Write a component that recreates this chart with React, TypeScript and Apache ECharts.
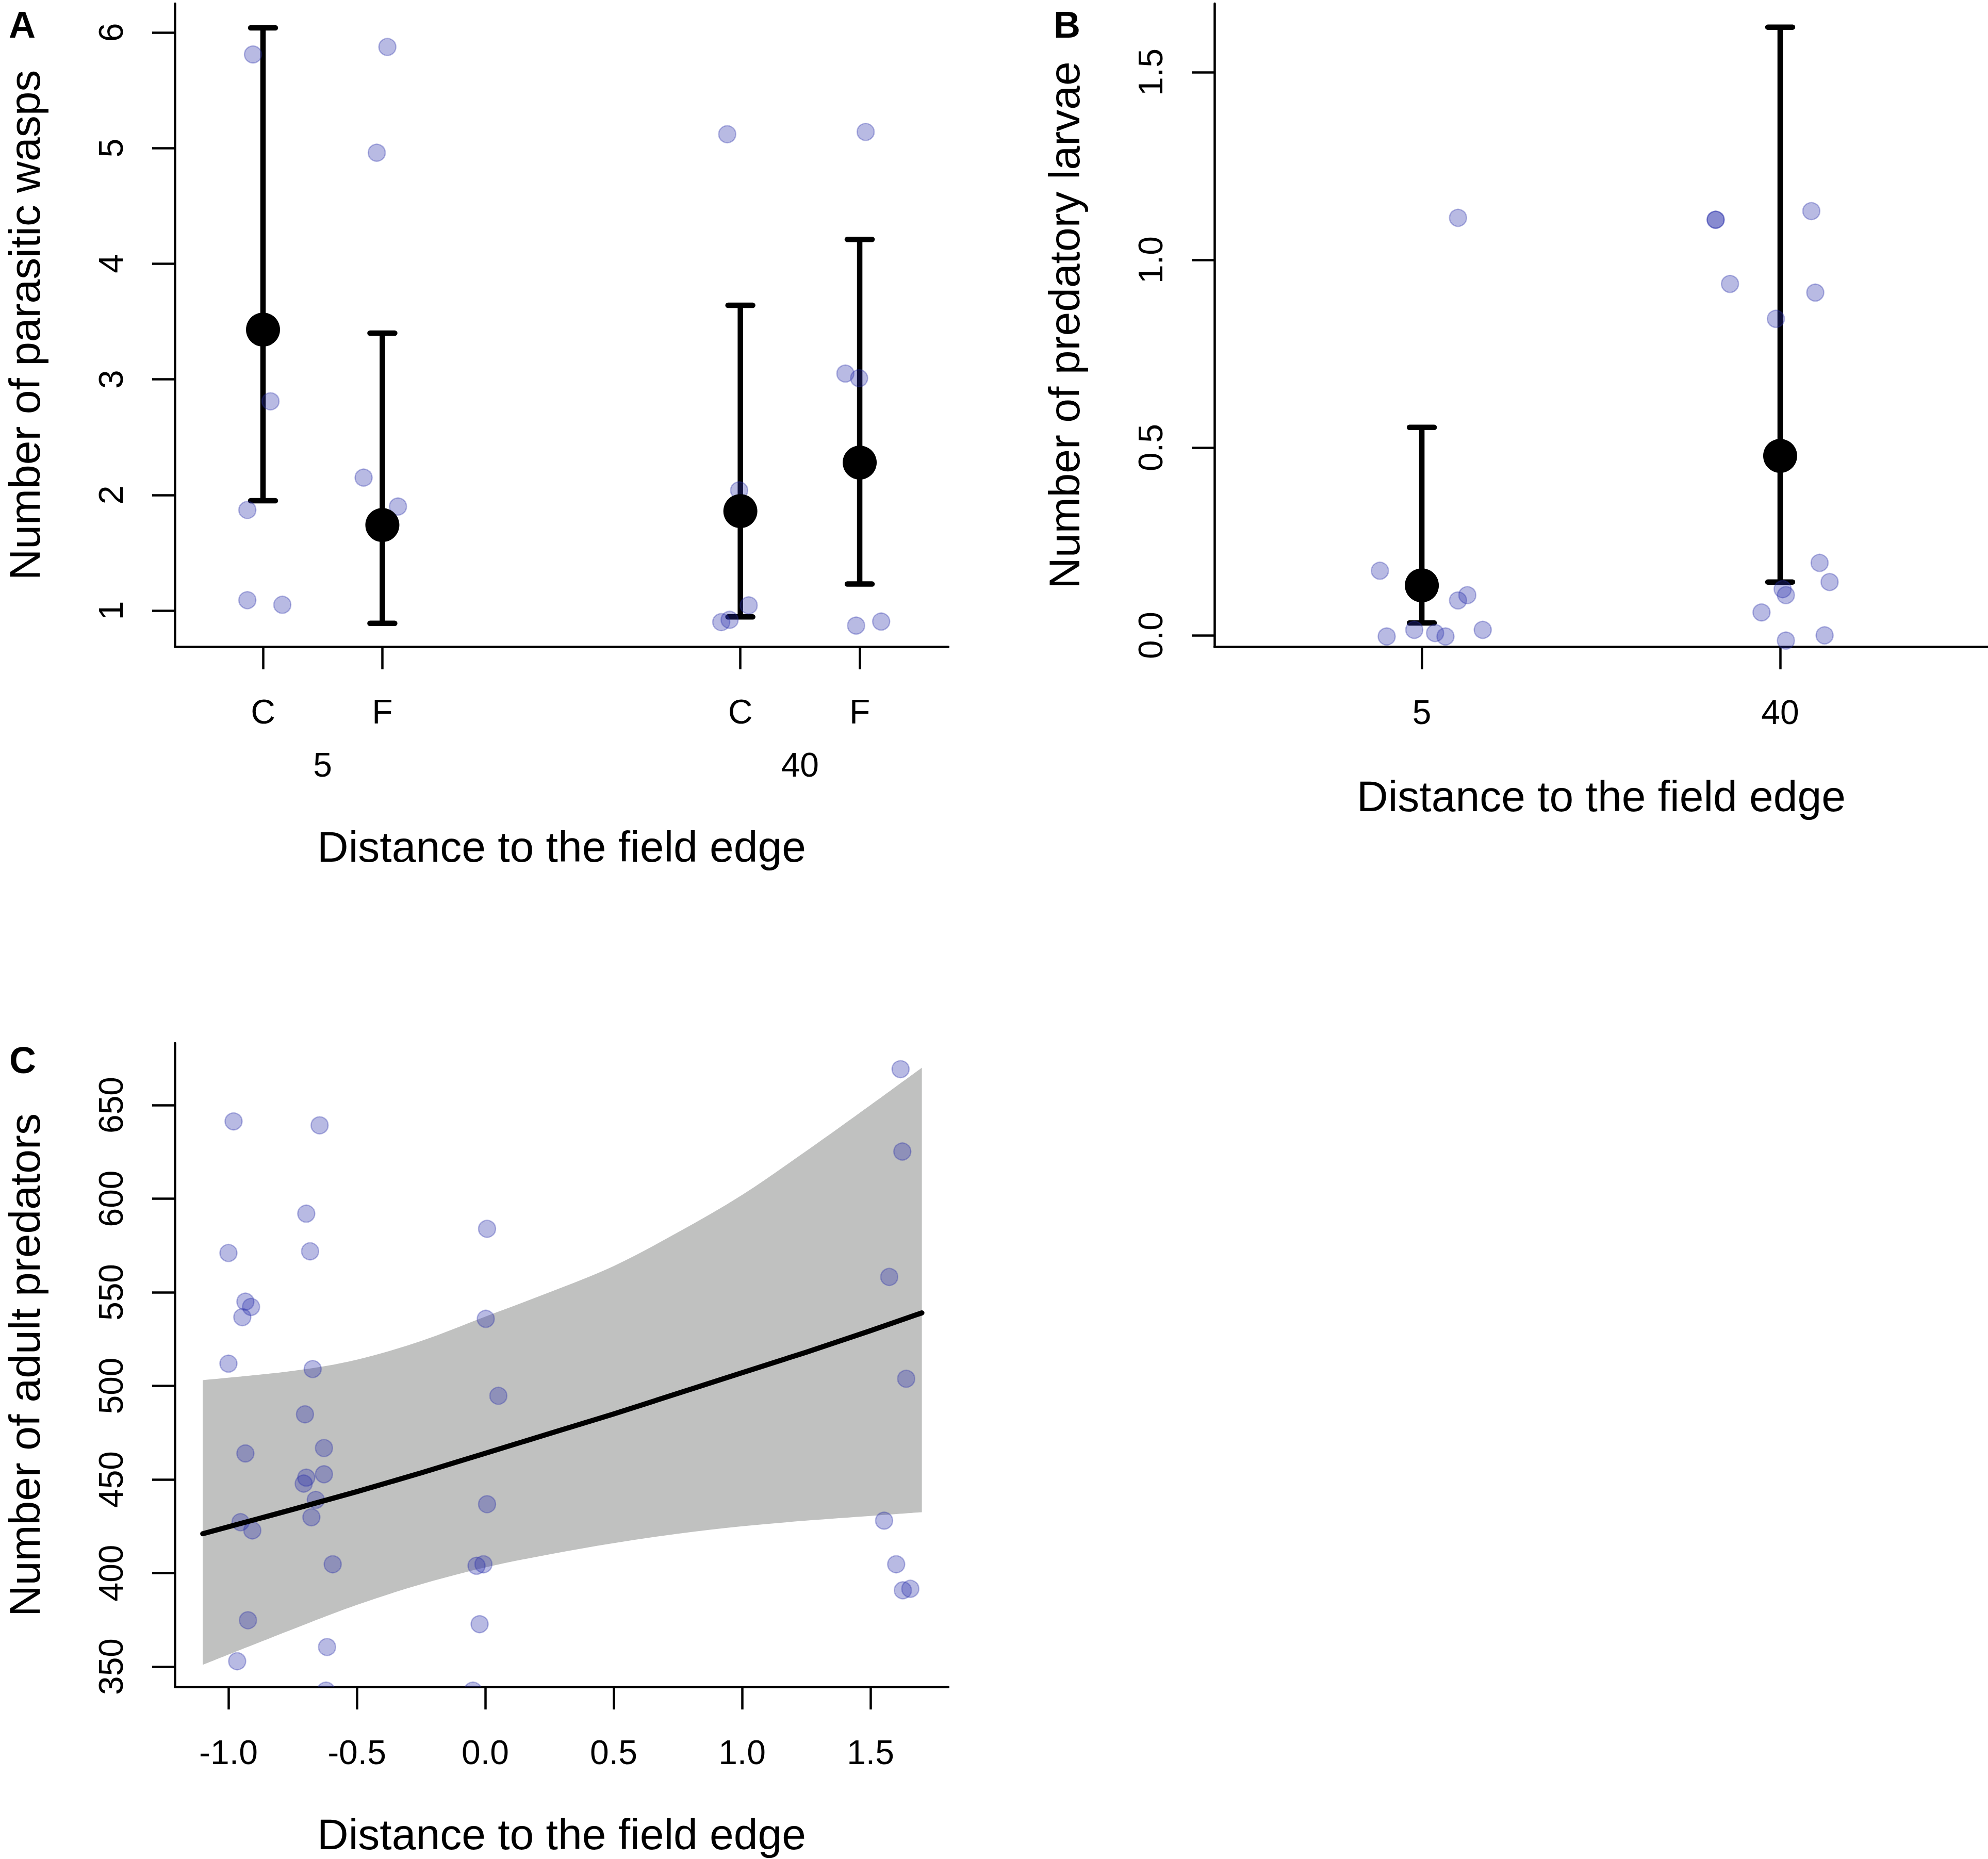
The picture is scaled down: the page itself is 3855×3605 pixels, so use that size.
import React, { useEffect, useRef } from "react";
import * as echarts from "echarts";

const FONT = "'Liberation Sans', Arial, Helvetica, sans-serif";
const POINT_FILL = "rgba(40,45,170,0.33)";

// ---------- Panel A: parasitic wasps ----------
const treatmentPositions = [1, 2, 5, 6];
const treatmentLabels = ["C", "F", "C", "F"];
const distanceGroupPositions = [1.5, 5.5];
const distanceLabels = ["5", "40"];
const waspTicks = [1, 2, 3, 4, 5, 6];
const waspPointX = [0.916, 1.063, 0.869, 0.869, 1.162, 2.042, 1.953, 1.843, 2.131, 4.89, 4.99, 4.84, 4.91, 5.07, 6.05, 5.88, 5.995, 5.97, 6.18];
const waspPointY = [5.81, 2.81, 1.87, 1.09, 1.05, 5.875, 4.96, 2.15, 1.9, 5.12, 2.04, 0.9, 0.92, 1.045, 5.14, 3.05, 3.01, 0.87, 0.905];
const waspMean = [3.43, 1.74, 1.86, 2.28];
const waspLower = [1.95, 0.89, 0.945, 1.23];
const waspUpper = [6.04, 3.4, 3.64, 4.21];

// ---------- Panel B: predatory larvae ----------
const larvaePositions = [1, 2];
const larvaeLabels = ["5", "40"];
const larvaeTicks = [0, 0.5, 1, 1.5];
const larvaePointX = [1.101, 0.883, 1.127, 1.101, 1.17, 0.979, 1.037, 0.902, 1.066, 1.82, 1.82, 2.087, 1.86, 2.098, 1.988, 2.11, 2.138, 2.007, 2.016, 1.948, 2.124, 2.016];
const larvaePointY = [1.112, 0.172, 0.107, 0.093, 0.0145, 0.0145, 0.006, -0.003, -0.003, 1.107, 1.107, 1.13, 0.936, 0.913, 0.843, 0.193, 0.142, 0.123, 0.107, 0.061, 0.0, -0.014];
const larvaeMean = [0.133, 0.478];
const larvaeLower = [0.033, 0.142];
const larvaeUpper = [0.554, 1.62];

// ---------- Panel C: adult predators ----------
const adultTicksY = [350, 400, 450, 500, 550, 600, 650];
const adultTicksX = [-1, -0.5, 0, 0.5, 1, 1.5];
const adultPointX = [-0.98, -0.645, 1.617, 1.624, -0.697, 0.007, -1.0, -0.682, 1.573, -0.934, -0.912, -0.946, 0.002, -1.0, -0.672, 1.639, 0.051, -0.702, -0.934, -0.628, -0.628, -0.697, -0.707, -0.66, 0.007, -0.677, -0.953, -0.907, 1.553, -0.594, -0.034, -0.007, 1.6, 1.626, 1.655, -0.924, -0.022, -0.616, -0.966, -0.62, -0.048];
const adultPointY = [641.3, 639.2, 669.2, 625.2, 592, 583.9, 571, 571.9, 558.2, 545, 542.2, 536.7, 535.8, 511.9, 509, 503.8, 494.7, 484.8, 463.9, 466.8, 452.8, 451, 447.8, 439.1, 436.8, 429.8, 427.2, 422.8, 428, 404.7, 403.9, 404.7, 404.7, 390.8, 391.6, 374.8, 372.7, 360.5, 352.9, 337.2, 337.2];
const fitX = [-1.1, -0.75, -0.5, -0.25, 0, 0.25, 0.5, 0.75, 1.0, 1.25, 1.5, 1.7];
const fitY = [421, 434, 443.5, 453.5, 464, 474.5, 485, 496, 507, 518, 529.5, 539];
const bandUpper = [503, 508, 514, 524, 537, 550, 564, 582, 602, 625.5, 650, 670];
const bandLower = [351, 370, 383, 394, 403, 410, 416, 421, 425, 428, 430.5, 432.5];

const TICK_FONT = 66;
const TITLE_FONT = 84;

const lineStyle = { color: "#000", width: 4.5 };

function labelStyle(extra: any) {
  return { color: "#000", fontSize: TICK_FONT, lineHeight: TICK_FONT, fontFamily: FONT, ...extra };
}
const nameStyle = { color: "#000", fontSize: TITLE_FONT, lineHeight: TITLE_FONT, fontFamily: FONT };

function errorBarRender(params: any, api: any) {
  const x = api.value(0);
  const lo = api.coord([x, api.value(2)]);
  const hi = api.coord([x, api.value(3)]);
  const st = { stroke: "#000", lineWidth: 10.5 };
  const stCap = { stroke: "#000", lineWidth: 10.5, lineCap: "round" };
  return {
    type: "group",
    children: [
      { type: "line", shape: { x1: lo[0], y1: lo[1], x2: hi[0], y2: hi[1] }, style: st },
      { type: "line", shape: { x1: hi[0] - 24, y1: hi[1], x2: hi[0] + 24, y2: hi[1] }, style: stCap },
      { type: "line", shape: { x1: lo[0] - 24, y1: lo[1], x2: lo[0] + 24, y2: lo[1] }, style: stCap },
    ],
  };
}

// Catmull-Rom spline through screen points, as cubic Bezier path commands
function splineSegments(pts: number[][]): string {
  let d = "";
  for (let i = 0; i < pts.length - 1; i++) {
    const p0 = pts[Math.max(0, i - 1)];
    const p1 = pts[i];
    const p2 = pts[i + 1];
    const p3 = pts[Math.min(pts.length - 1, i + 2)];
    const c1 = [p1[0] + (p2[0] - p0[0]) / 6, p1[1] + (p2[1] - p0[1]) / 6];
    const c2 = [p2[0] - (p3[0] - p1[0]) / 6, p2[1] - (p3[1] - p1[1]) / 6];
    d += ` C ${c1[0].toFixed(2)} ${c1[1].toFixed(2)} ${c2[0].toFixed(2)} ${c2[1].toFixed(2)} ${p2[0].toFixed(2)} ${p2[1].toFixed(2)}`;
  }
  return d;
}

function panelLetter(text: string, x: number, y: number) {
  return {
    type: "text", x, y,
    style: { text, fontSize: 72, fontWeight: "bold", fontFamily: FONT, fill: "#000", align: "center", verticalAlign: "middle", textAlign: "center", textVerticalAlign: "middle" },
  };
}

export default function App() {
  const ref = useRef<HTMLDivElement>(null);
  useEffect(() => {
    if (!ref.current) return;
    const chart = echarts.init(ref.current, undefined, { renderer: "svg" });

    const pointItemStyle = { color: POINT_FILL, borderColor: POINT_FILL, borderWidth: 2.5, opacity: 1 };
    const meanItemStyle = { color: "#000", opacity: 1 };

    const option: any = {
      animation: false,
      backgroundColor: "#fff",
      grid: [
        { left: 339, top: 7, width: 1500, height: 1247, outerBoundsMode: "none" },
        { left: 2355, top: 7, width: 1500, height: 1247, outerBoundsMode: "none" },
        { left: 339, top: 2023, width: 1500, height: 1248, outerBoundsMode: "none" },
      ],
      xAxis: [
        {
          gridIndex: 0, type: "value", position: "bottom", min: 0.261, max: 6.743,
          axisLine: { show: true, onZero: false, lineStyle },
          axisTick: { show: true, length: 44, lineStyle, customValues: treatmentPositions },
          axisLabel: labelStyle({ customValues: treatmentPositions, margin: 93, formatter: (v: number) => treatmentLabels[treatmentPositions.indexOf(v)] ?? "" }),
          splitLine: { show: false },
          name: "Distance to the field edge", nameLocation: "middle", nameGap: 346, nameTextStyle: nameStyle,
        },
        {
          gridIndex: 0, type: "value", position: "bottom", min: 0.261, max: 6.743,
          axisLine: { show: false, onZero: false }, axisTick: { show: false },
          axisLabel: labelStyle({ customValues: distanceGroupPositions, margin: 196, formatter: (v: number) => distanceLabels[distanceGroupPositions.indexOf(v)] ?? "" }),
          splitLine: { show: false },
        },
        {
          gridIndex: 1, type: "value", position: "bottom", min: 0.4213, max: 2.58,
          axisLine: { show: true, onZero: false, lineStyle },
          axisTick: { show: true, length: 44, lineStyle, customValues: larvaePositions },
          axisLabel: labelStyle({ customValues: larvaePositions, margin: 94, formatter: (v: number) => larvaeLabels[larvaePositions.indexOf(v)] ?? "" }),
          splitLine: { show: false },
          name: "Distance to the field edge", nameLocation: "middle", nameGap: 248, nameTextStyle: nameStyle,
        },
        {
          gridIndex: 2, type: "value", position: "bottom", min: -1.2088, max: 1.8032,
          axisLine: { show: true, onZero: false, lineStyle },
          axisTick: { show: true, length: 44, lineStyle, customValues: adultTicksX },
          axisLabel: labelStyle({ customValues: adultTicksX, margin: 94, formatter: (v: number) => v.toFixed(1) }),
          splitLine: { show: false },
          name: "Distance to the field edge", nameLocation: "middle", nameGap: 244, nameTextStyle: nameStyle,
        },
      ],
      yAxis: [
        {
          gridIndex: 0, type: "value", position: "left", min: 0.6878, max: 6.2498,
          axisLine: { show: true, onZero: false, lineStyle },
          axisTick: { show: true, length: 44, lineStyle, customValues: waspTicks },
          axisLabel: labelStyle({ customValues: waspTicks, rotate: 90, margin: 91, formatter: (v: number) => String(v) }),
          splitLine: { show: false },
          name: "Number of parasitic wasps", nameLocation: "middle", nameGap: 249, nameTextStyle: nameStyle,
        },
        {
          gridIndex: 1, type: "value", position: "left", min: -0.0302, max: 1.6827,
          axisLine: { show: true, onZero: false, lineStyle },
          axisTick: { show: true, length: 44, lineStyle, customValues: larvaeTicks },
          axisLabel: labelStyle({ customValues: larvaeTicks, rotate: 90, margin: 91, formatter: (v: number) => v.toFixed(1) }),
          splitLine: { show: false },
          name: "Number of predatory larvae", nameLocation: "middle", nameGap: 249, nameTextStyle: nameStyle,
        },
        {
          gridIndex: 2, type: "value", position: "left", min: 339.26, max: 683.06,
          axisLine: { show: true, onZero: false, lineStyle },
          axisTick: { show: true, length: 44, lineStyle, customValues: adultTicksY },
          axisLabel: labelStyle({ customValues: adultTicksY, rotate: 90, margin: 91, formatter: (v: number) => String(v) }),
          splitLine: { show: false },
          name: "Number of adult predators", nameLocation: "middle", nameGap: 249, nameTextStyle: nameStyle,
        },
      ],
      graphic: [panelLetter("A", 43, 48), panelLetter("B", 2069, 48), panelLetter("C", 44, 2056)],
      series: [
        // Panel A
        {
          type: "scatter", xAxisIndex: 0, yAxisIndex: 0, symbolSize: 33, itemStyle: pointItemStyle,
          data: waspPointX.map((x, i) => [x, waspPointY[i]]),
        },
        {
          type: "custom", xAxisIndex: 0, yAxisIndex: 0, renderItem: errorBarRender, encode: { x: 0, y: 1 },
          data: treatmentPositions.map((x, i) => [x, waspMean[i], waspLower[i], waspUpper[i]]),
        },
        {
          type: "scatter", xAxisIndex: 0, yAxisIndex: 0, symbolSize: 66, itemStyle: meanItemStyle,
          data: treatmentPositions.map((x, i) => [x, waspMean[i]]),
        },
        // Panel B
        {
          type: "scatter", xAxisIndex: 2, yAxisIndex: 1, symbolSize: 33, itemStyle: pointItemStyle,
          data: larvaePointX.map((x, i) => [x, larvaePointY[i]]),
        },
        {
          type: "custom", xAxisIndex: 2, yAxisIndex: 1, renderItem: errorBarRender, encode: { x: 0, y: 1 },
          data: larvaePositions.map((x, i) => [x, larvaeMean[i], larvaeLower[i], larvaeUpper[i]]),
        },
        {
          type: "scatter", xAxisIndex: 2, yAxisIndex: 1, symbolSize: 66, itemStyle: meanItemStyle,
          data: larvaePositions.map((x, i) => [x, larvaeMean[i]]),
        },
        // Panel C: confidence band as one smooth closed path
        {
          type: "custom", xAxisIndex: 3, yAxisIndex: 2, encode: { x: 0, y: 1 },
          data: fitX.map((x, i) => [x, bandUpper[i], bandLower[i]]),
          renderItem: (params: any, api: any) => {
            if (params.dataIndex !== 0) return null;
            const upper = fitX.map((x, i) => api.coord([x, bandUpper[i]]));
            const lower = fitX.map((x, i) => api.coord([x, bandLower[i]])).reverse();
            const d =
              `M ${upper[0][0].toFixed(2)} ${upper[0][1].toFixed(2)}` +
              splineSegments(upper) +
              ` L ${lower[0][0].toFixed(2)} ${lower[0][1].toFixed(2)}` +
              splineSegments(lower) +
              " Z";
            return { type: "path", shape: { pathData: d }, style: { fill: "#c0c1c0", stroke: null } };
          },
        },
        {
          type: "line", xAxisIndex: 3, yAxisIndex: 2, showSymbol: false, symbol: "none", smooth: false,
          lineStyle: { color: "#000", width: 10, cap: "round", join: "round" },
          data: fitX.map((x, i) => [x, fitY[i]]),
        },
        {
          type: "custom", xAxisIndex: 3, yAxisIndex: 2, clip: true, encode: { x: 0, y: 1 },
          data: adultPointX.map((x, i) => [x, adultPointY[i]]),
          renderItem: (params: any, api: any) => {
            const p = api.coord([api.value(0), api.value(1)]);
            return { type: "circle", shape: { cx: p[0], cy: p[1], r: 16.5 }, style: { fill: POINT_FILL, stroke: POINT_FILL, lineWidth: 2.5 } };
          },
        },
      ],
    };
    chart.setOption(option);
    return () => chart.dispose();
  }, []);
  return <div ref={ref} style={{ position: "absolute", left: 0, top: 0, width: 3855, height: 3605, background: "#fff" }} />;
}
